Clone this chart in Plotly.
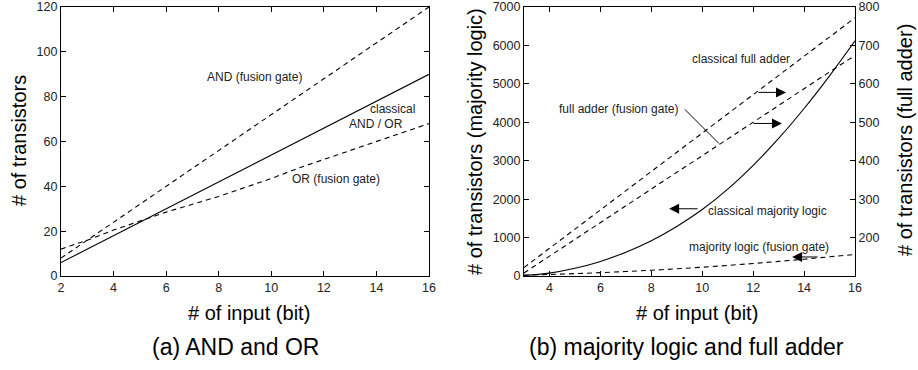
import plotly.graph_objects as go

# ---- data: panel (a) ----
n_a = [2, 3, 4, 5, 6, 7, 8, 9, 10, 11, 12, 13, 14, 15, 16]
and_fusion = [8, 16, 24, 32, 40, 48, 56, 64, 72, 80, 88, 96, 104, 112, 120]
andor_classical = [6, 12, 18, 24, 30, 36, 42, 48, 54, 60, 66, 72, 78, 84, 90]
or_fusion = [12, 16, 20.5, 24.5, 28.5, 32, 35.5, 39.5, 43.5, 48, 52, 56, 60, 64, 68]

# ---- data: panel (b) ----
n_b = [3, 4, 5, 6, 7, 8, 9, 10, 11, 12, 13, 14, 15, 16]
maj_classical = [15, 75, 200, 380, 620, 920, 1290, 1730, 2260, 2880, 3580, 4360, 5210, 6120]
maj_fusion = [25, 40, 62, 88, 117, 150, 188, 230, 276, 326, 380, 438, 500, 560]
fa_classical = [122, 172, 222, 272, 322, 372, 422, 472, 522, 572, 622, 672, 722, 772]
fa_fusion = [108, 152, 196, 239, 283, 326, 370, 413, 457, 500, 544, 587, 631, 674]

FONT = "Liberation Sans, Arial, Helvetica, sans-serif"
DASH = "5px,4px"
LW = 1.1

fig = go.Figure()

# panel (a)
fig.add_trace(go.Scatter(x=n_a, y=and_fusion, mode="lines", xaxis="x", yaxis="y",
                         line=dict(color="black", width=LW, dash=DASH)))
fig.add_trace(go.Scatter(x=n_a, y=andor_classical, mode="lines", xaxis="x", yaxis="y",
                         line=dict(color="black", width=LW)))
fig.add_trace(go.Scatter(x=n_a, y=or_fusion, mode="lines", xaxis="x", yaxis="y",
                         line=dict(color="black", width=LW, dash=DASH)))

# panel (b)
fig.add_trace(go.Scatter(x=n_b, y=maj_classical, mode="lines", xaxis="x2", yaxis="y2",
                         line=dict(color="black", width=LW, shape="spline")))
fig.add_trace(go.Scatter(x=n_b, y=maj_fusion, mode="lines", xaxis="x2", yaxis="y2",
                         line=dict(color="black", width=LW, dash=DASH, shape="spline")))
fig.add_trace(go.Scatter(x=n_b, y=fa_classical, mode="lines", xaxis="x2", yaxis="y3",
                         line=dict(color="black", width=LW, dash=DASH)))
fig.add_trace(go.Scatter(x=n_b, y=fa_fusion, mode="lines", xaxis="x2", yaxis="y3",
                         line=dict(color="black", width=LW, dash=DASH)))

ax_common = dict(showline=True, linecolor="black", linewidth=1, ticks="inside",
                 ticklen=5, tickcolor="black", tickwidth=1, showgrid=False, zeroline=False,
                 automargin=False,
                 tickfont=dict(family=FONT, size=12.5, color="#222"))

Y0, Y1 = 0.254, 0.981
fig.update_layout(
    width=918, height=370,
    margin=dict(l=0, r=0, t=0, b=0, autoexpand=False),
    paper_bgcolor="white", plot_bgcolor="white",
    showlegend=False,
    font=dict(family=FONT, color="black"),
    xaxis=dict(domain=[0.0664, 0.4673], range=[2, 16], anchor="y", mirror="ticks",
               tickvals=[2, 4, 6, 8, 10, 12, 14, 16], **ax_common),
    yaxis=dict(domain=[Y0, Y1], range=[0, 120], anchor="x", mirror="ticks",
               tickvals=[0, 20, 40, 60, 80, 100, 120], **ax_common),
    xaxis2=dict(domain=[0.5708, 0.9314], range=[3, 16], anchor="y2", mirror="ticks",
                tickvals=[4, 6, 8, 10, 12, 14, 16], **ax_common),
    yaxis2=dict(domain=[Y0, Y1], range=[0, 7000], anchor="x2", mirror=True,
                tickvals=[0, 1000, 2000, 3000, 4000, 5000, 6000, 7000], **ax_common),
    yaxis3=dict(range=[100, 800], anchor="x2", overlaying="y2", side="right",
                tickvals=[200, 300, 400, 500, 600, 700, 800], **ax_common),
)

ann = []
def txt(x, y, text, xref="x", yref="y", size=12, xanchor="center"):
    ann.append(dict(x=x, y=y, xref=xref, yref=yref, text=text, showarrow=False,
                    xanchor=xanchor, yanchor="middle",
                    font=dict(family=FONT, size=size, color="#222")))

# panel (a) labels
txt(9.38, 88.8, "AND (fusion gate)")
txt(14.63, 74.6, "classical")
txt(13.98, 67.8, "AND / OR")
txt(12.46, 43.3, "OR (fusion gate)")

# panel (b) labels
txt(11.52, 5641, "classical full adder", "x2", "y2")
txt(6.73, 4335, "full adder (fusion gate)", "x2", "y2")
txt(12.58, 1698, "classical majority logic", "x2", "y2")
txt(12.23, 757, "majority logic (fusion gate)", "x2", "y2")

# arrows (head at x,y; tail offset in px)
def arrow(x, y, axp):
    ann.append(dict(x=x, y=y, xref="x2", yref="y2", ax=axp, ay=0, text="",
                    showarrow=True, arrowhead=2, arrowsize=2, arrowwidth=1,
                    arrowcolor="black", standoff=0, startstandoff=0))
arrow(13.29, 4779, -29)
arrow(13.13, 3970, -30)
arrow(8.70, 1750, 30)
arrow(13.53, 496, 27)

# axis titles & captions (paper coords)
W, H = 918.0, 370.0
def ptxt(px, py, text, size, angle=0):
    ann.append(dict(x=px / W, y=1 - py / H, xref="paper", yref="paper", text=text,
                    showarrow=False, xanchor="center", yanchor="middle", textangle=angle,
                    font=dict(family=FONT, size=size, color="black")))

ptxt(19, 141, "# of transistors", 20, -90)
ptxt(249, 313, "# of input (bit)", 20)
ptxt(235, 347, "(a) AND and OR", 23)
ptxt(475, 142, "# of transistors (majority logic)", 20, -90)
ptxt(905, 140, "# of transistors (full adder)", 20, -90)
ptxt(697, 313, "# of input (bit)", 20)
ptxt(686, 347, "(b) majority logic and full adder", 23)

fig.update_layout(annotations=ann)

# leader line for "full adder (fusion gate)"
fig.add_shape(type="line", xref="x2", yref="y2", x0=9.32, y0=4335, x1=10.66, y1=3447,
              line=dict(color="black", width=1))

fig.write_html("out.html", config={"displayModeBar": False},
               post_script="document.body.style.margin='0';document.body.style.overflow='hidden';")
